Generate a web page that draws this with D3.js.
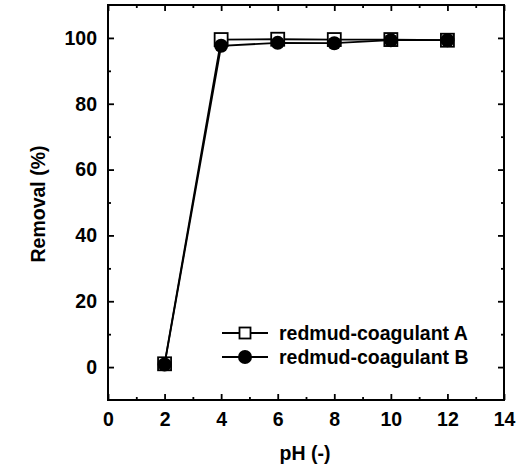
<!DOCTYPE html>
<html><head><meta charset="utf-8">
<script src="https://cdn.jsdelivr.net/npm/d3@7"></script>
<style>body{margin:0;background:#fff}svg{display:block}text{font-family:"Liberation Sans",Arial,sans-serif;fill:#000;font-weight:bold}</style>
</head><body><svg id="c" width="527" height="468"></svg>
<script>
const pH = [2, 4, 6, 8, 10, 12];
const seriesA = [1.0, 99.5, 99.6, 99.5, 99.5, 99.3];
const seriesB = [0.8, 97.6, 98.5, 98.4, 99.3, 99.3];
const legendLabels = ["redmud-coagulant A", "redmud-coagulant B"];
const xTicks = [0, 2, 4, 6, 8, 10, 12, 14];
const yTicks = [0, 20, 40, 60, 80, 100];
const xMinor = [1, 3, 5, 7, 9, 11, 13];
const yMinor = [10, 30, 50, 70, 90];

const svg = d3.select("#c");
const L = 108, R = 504, T = 5, B = 400;
const x = d3.scaleLinear().domain([0, 14]).range([L, R]);
const y = d3.scaleLinear().domain([-10, 110]).range([B, T]);
const FS = 19.5;

svg.append("rect").attr("x", L).attr("y", T).attr("width", R - L).attr("height", B - T)
  .attr("fill", "none").attr("stroke", "#000").attr("stroke-width", 2);

function addAxis(axis, tr){
  const g = svg.append("g").attr("transform", tr).call(axis);
  g.select(".domain").remove();
  g.selectAll("line").attr("stroke", "#000").attr("stroke-width", 1.8);
  g.selectAll("text").attr("font-size", FS).style("font-family", '"Liberation Sans",Arial,sans-serif').style("font-weight", "bold");
  return g;
}
addAxis(d3.axisBottom(x).tickValues(xTicks).tickSize(-6).tickPadding(12).tickFormat(d3.format("d")), `translate(0,${B})`);
addAxis(d3.axisBottom(x).tickValues(xMinor).tickSize(-3).tickFormat(""), `translate(0,${B})`);
addAxis(d3.axisTop(x).tickValues(xTicks).tickSize(-6).tickFormat(""), `translate(0,${T})`);
addAxis(d3.axisTop(x).tickValues(xMinor).tickSize(-3).tickFormat(""), `translate(0,${T})`);
addAxis(d3.axisLeft(y).tickValues(yTicks).tickSize(-6).tickPadding(11).tickFormat(d3.format("d")), `translate(${L},0)`);
addAxis(d3.axisLeft(y).tickValues(yMinor).tickSize(-3).tickFormat(""), `translate(${L},0)`);
addAxis(d3.axisRight(y).tickValues(yTicks).tickSize(-6).tickFormat(""), `translate(${R},0)`);
addAxis(d3.axisRight(y).tickValues(yMinor).tickSize(-3).tickFormat(""), `translate(${R},0)`);

svg.append("text").attr("x", 305).attr("y", 460).attr("text-anchor", "middle")
  .attr("font-size", FS).text("pH (-)");
svg.append("text").attr("transform", `translate(45,${204}) rotate(-90)`)
  .attr("text-anchor", "middle").attr("font-size", FS).text("Removal (%)");

const line = d3.line().x(d => x(d[0])).y(d => y(d[1]));
const dA = pH.map((p, i) => [p, seriesA[i]]);
const dB = pH.map((p, i) => [p, seriesB[i]]);
svg.append("path").datum(dA).attr("d", line).attr("fill", "none").attr("stroke", "#000").attr("stroke-width", 1.8);
svg.append("path").datum(dB).attr("d", line).attr("fill", "none").attr("stroke", "#000").attr("stroke-width", 1.8);

const S = 13;
svg.selectAll(".sq").data(dA).enter().append("rect")
  .attr("x", d => x(d[0]) - S / 2).attr("y", d => y(d[1]) - S / 2)
  .attr("width", S).attr("height", S).attr("fill", "#fff").attr("stroke", "#000").attr("stroke-width", 1.8);
svg.selectAll(".ci").data(dB).enter().append("circle")
  .attr("cx", d => x(d[0])).attr("cy", d => y(d[1])).attr("r", 7).attr("fill", "#000");

const lg = svg.append("g");
legendLabels.forEach((lab, i) => {
  const cy = 333 + i * 24;
  lg.append("line").attr("x1", 222).attr("x2", 268).attr("y1", cy).attr("y2", cy).attr("stroke", "#000").attr("stroke-width", 1.8);
  if (i === 0) lg.append("rect").attr("x", 245 - 5.5).attr("y", cy - 5.5).attr("width", 11).attr("height", 11)
      .attr("fill", "#fff").attr("stroke", "#000").attr("stroke-width", 1.8);
  else lg.append("circle").attr("cx", 245).attr("cy", cy).attr("r", 7).attr("fill", "#000");
  lg.append("text").attr("x", 279).attr("y", cy + 7).attr("font-size", FS).text(lab);
});
</script></body></html>
